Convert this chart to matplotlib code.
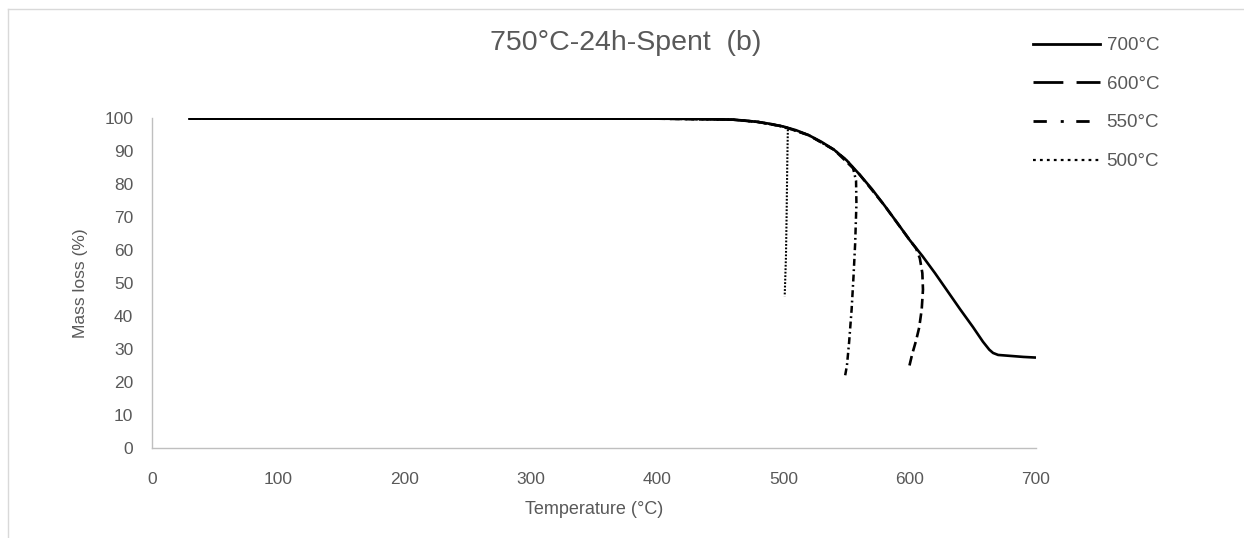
import matplotlib.pyplot as plt
from matplotlib.lines import Line2D

plt.rcParams['font.family'] = ['Liberation Sans', 'DejaVu Sans']
plt.rcParams['lines.scale_dashes'] = False

# TGA mass curves, temperature (°C) vs remaining mass (%)
temp_700 = [29, 100, 200, 300, 400, 440, 460, 470, 480, 490, 500, 510, 520, 530, 540, 550, 560,
            570, 580, 590, 600, 610, 620, 630, 640, 650, 658, 663, 666, 670, 680, 690, 700]
mass_700 = [99.8, 99.8, 99.8, 99.8, 99.8, 99.7, 99.5, 99.2, 98.8, 98.2, 97.4, 96.3, 94.8, 92.8,
            90.4, 87.2, 83.0, 78.5, 73.5, 68.3, 63.0, 58.2, 53.0, 47.5, 42.0, 36.7, 32.2, 29.8,
            28.8, 28.2, 27.9, 27.6, 27.4]

temp_600 = [29, 200, 400, 460, 480, 500, 520, 540, 560, 580, 600, 605, 608, 610, 610.5, 609.5,
            607.5, 605, 602, 599.5]
mass_600 = [99.8, 99.8, 99.8, 99.5, 98.8, 97.4, 94.8, 90.4, 83.0, 73.5, 63.0, 60.5, 57.5, 53.0,
            48.0, 42.0, 36.5, 32.5, 28.5, 24.5]

temp_550 = [29, 200, 400, 460, 480, 500, 520, 540, 550, 555, 557.5, 557.8, 556.8, 555.5, 554,
            552, 550.3, 548.7]
mass_550 = [99.8, 99.8, 99.8, 99.5, 98.8, 97.4, 94.8, 90.4, 87.2, 85.0, 81.0, 74.0, 62.0, 52.0,
            42.0, 32.0, 25.0, 21.6]

temp_500 = [29, 200, 400, 460, 480, 500, 503.5, 503, 502.5, 502, 501]
mass_500 = [99.8, 99.8, 99.8, 99.5, 98.8, 97.4, 96.6, 85.0, 70.0, 58.0, 46.0]

series_labels = ['700°C', '600°C', '550°C', '500°C']
x_ticks = [0, 100, 200, 300, 400, 500, 600, 700]
y_ticks = [0, 10, 20, 30, 40, 50, 60, 70, 80, 90, 100]

grey = '#595959'
W, H = 1244, 538
fig = plt.figure(figsize=(W / 100, H / 100), dpi=100)
ax = fig.add_axes([152 / W, 1 - 448 / H, 884 / W, 330 / H])

ax.plot(temp_700, mass_700, color='black', lw=1.9, solid_capstyle='butt')
ax.plot(temp_600, mass_600, color='black', lw=1.9, dashes=(7, 3.5))
ax.plot(temp_550, mass_550, color='black', lw=1.8, dashes=(5, 2.5, 1.3, 2.5))
ax.plot(temp_500, mass_500, color='black', lw=1.5, dashes=(1.3, 1.2))

ax.set_xlim(0, 700)
ax.set_ylim(0, 100)
ax.set_xticks(x_ticks)
ax.set_yticks(y_ticks)
ax.tick_params(length=0, labelsize=12.5, colors=grey)
ax.tick_params(axis='y', pad=13.5)
ax.tick_params(axis='x', pad=17)
for side in ['top', 'right']:
    ax.spines[side].set_visible(False)
for side in ['left', 'bottom']:
    ax.spines[side].set_color('#bfbfbf')
    ax.spines[side].set_linewidth(1.0)

ax.set_xlabel('Temperature (°C)', fontsize=13, color=grey)
ax.set_ylabel('Mass loss (%)', fontsize=12.5, color=grey)
ax.xaxis.set_label_coords(0.5, -0.16)
ax.yaxis.set_label_coords(-0.072, 0.5)

fig.text(626 / W, 1 - 50 / H, '750°C-24h-Spent  (b)', fontsize=20.5, color=grey,
         ha='center', va='baseline')

# legend with longer dash patterns than the curves
handles = [
    Line2D([], [], color='black', lw=2.0),
    Line2D([], [], color='black', lw=2.0, dashes=(21.5, 9.5)),
    Line2D([], [], color='black', lw=2.0, dashes=(9.6, 10, 2.2, 9)),
    Line2D([], [], color='black', lw=1.6, dashes=(2.0, 3.0)),
]
fig.legend(handles, series_labels, loc='upper left', bbox_to_anchor=(1033 / W, 1 - 37 / H),
           frameon=False, fontsize=13.5, labelcolor=grey, handlelength=3.55,
           handletextpad=0.37, labelspacing=1.15, borderpad=0, borderaxespad=0)

# thin chart-area border
fig.add_artist(Line2D([8 / W, 1], [1 - 9 / H, 1 - 9 / H], color='#d9d9d9', lw=1.0))
fig.add_artist(Line2D([8 / W, 8 / W], [0, 1 - 9 / H], color='#d9d9d9', lw=1.0))

fig.savefig('out.png', dpi=100)
